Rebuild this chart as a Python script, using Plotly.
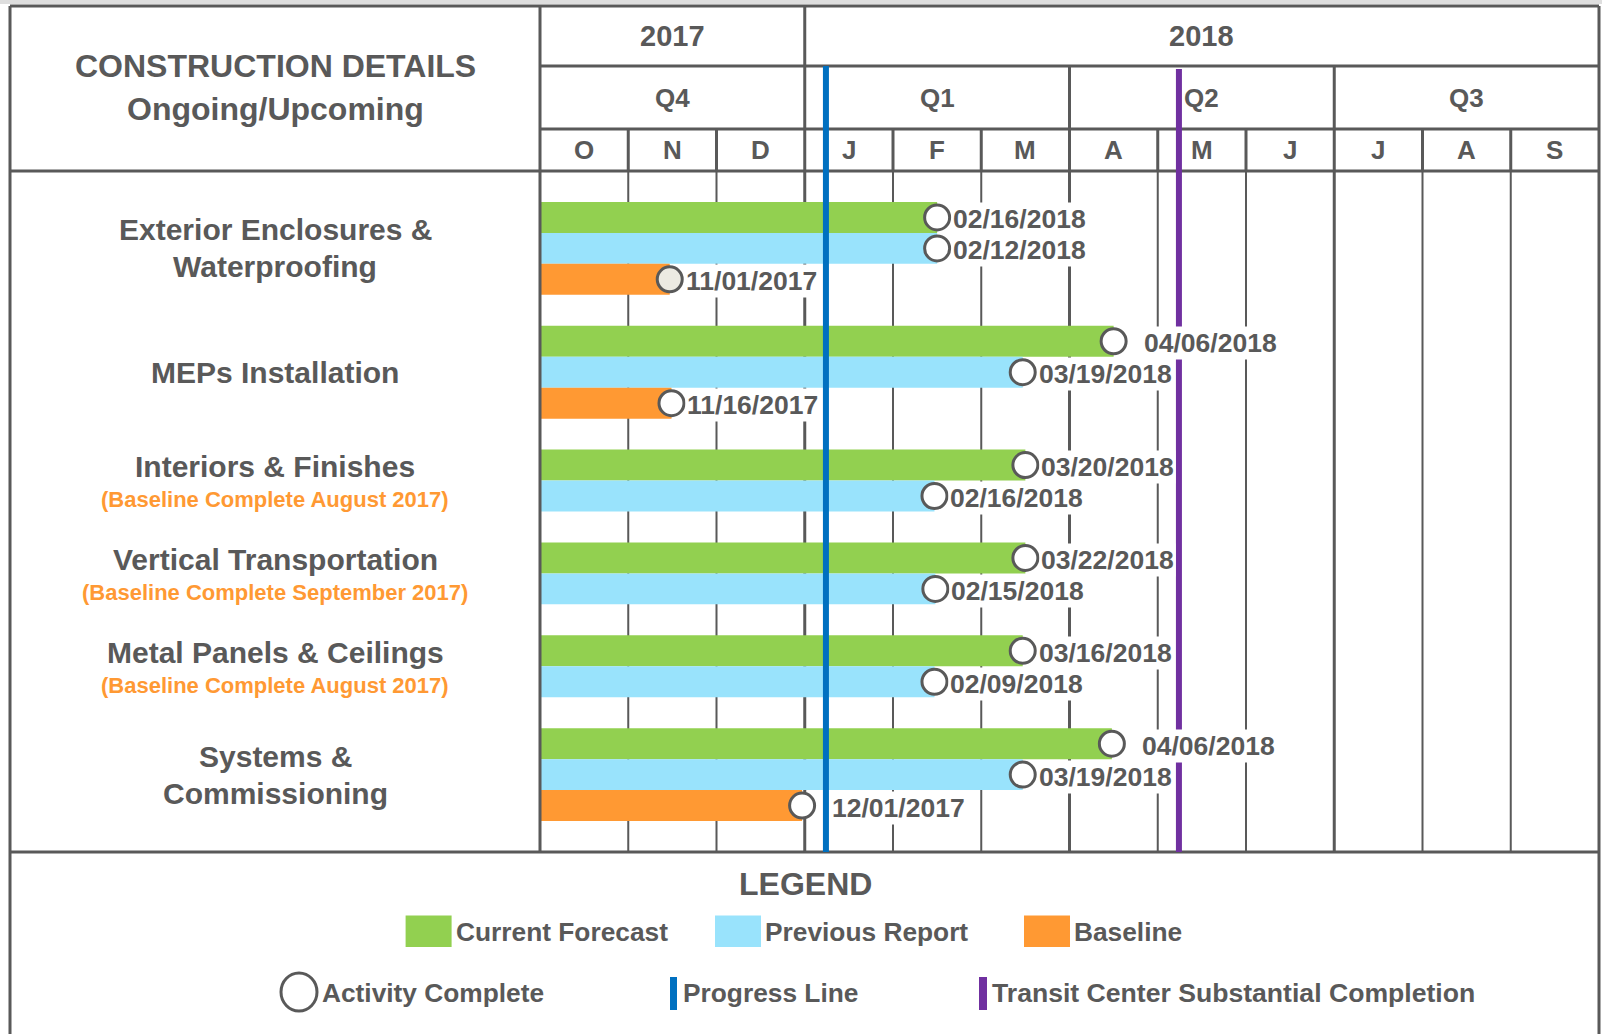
import plotly.graph_objects as go

# ---------------- data ----------------
categories = ["Exterior Enclosures &<br>Waterproofing", "MEPs Installation", "Interiors & Finishes",
              "Vertical Transportation", "Metal Panels & Ceilings", "Systems &<br>Commissioning"]
category_notes = [None, None, "(Baseline Complete August 2017)", "(Baseline Complete September 2017)",
                  "(Baseline Complete August 2017)", None]

# bar ends as drawn on the chart, in months counted from 1 Oct 2017
forecast_end = [4.5, 6.5, 5.5, 5.5, 5.47, 6.48]
forecast_label = ["02/16/2018", "04/06/2018", "03/20/2018", "03/22/2018", "03/16/2018", "04/06/2018"]
previous_end = [4.5, 5.47, 4.47, 4.48, 4.47, 5.47]
previous_label = ["02/12/2018", "03/19/2018", "02/16/2018", "02/15/2018", "02/09/2018", "03/19/2018"]
baseline_end = [1.47, 1.49, None, None, None, 2.97]
baseline_label = ["11/01/2017", "11/16/2017", None, None, None, "12/01/2017"]

progress_line = 3.24        # months from 1 Oct 2017
transit_completion = 7.24   # months from 1 Oct 2017

years = ["2017", "2018"]
year_months = [3, 9]
quarters = ["Q4", "Q1", "Q2", "Q3"]
months = ["O", "N", "D", "J", "F", "M", "A", "M", "J", "J", "A", "S"]

title_lines = ["CONSTRUCTION DETAILS", "Ongoing/Upcoming"]
legend_title = "LEGEND"
legend_extra = ["Activity Complete", "Progress Line", "Transit Center Substantial Completion"]

# ---------------- styling ----------------
W, H = 1602, 1034
L, R, T, B = 540, 1599, 171, 852          # plot area in pixels
FONT = "Liberation Sans, Arial, Helvetica, sans-serif"
GREY = "#595959"
GREEN, BLUE, ORANGE = "#92D050", "#99E3FC", "#FF9933"
PROG, PURPLE = "#0070C0", "#7030A0"
NOTE_COLOR = "#FF9933"

series = [("Current Forecast", forecast_end, forecast_label, GREEN),
          ("Previous Report", previous_end, previous_label, BLUE),
          ("Baseline", baseline_end, baseline_label, ORANGE)]
shaded_markers = {(2, 0)}                          # (series, category) with tinted circle
label_shift = {(0, 1): 28, (0, 5): 28, (2, 5): 28}  # labels set further from their circle


def xp(px):
    return (px - L) / (R - L)


def yp(py):
    return (B - py) / (B - T)


# ---------------- row layout ----------------
pts = [dict(x=[], y=[], text=[], cat=[]) for _ in series]
group_center = []
row = 0
for i in range(len(categories)):
    first = row
    for s, (_, ends, labels, _) in enumerate(series):
        if ends[i] is not None:
            pts[s]["x"].append(ends[i])
            pts[s]["y"].append(row)
            pts[s]["text"].append(labels[i])
            pts[s]["cat"].append(i)
            row += 1
    group_center.append((first + row - 1) / 2)
    row += 1
n_rows = row

fig = go.Figure()

for s, (name, _, _, col) in enumerate(series):
    fig.add_trace(go.Bar(x=pts[s]["x"], y=pts[s]["y"], base=0, orientation="h", width=1,
                         marker=dict(color=col, line=dict(width=0)), name=name, hoverinfo="skip"))

mx, my, mfill = [], [], []
for s in range(len(series)):
    for x, y, c in zip(pts[s]["x"], pts[s]["y"], pts[s]["cat"]):
        mx.append(x)
        my.append(y)
        mfill.append("#ECEAE2" if (s, c) in shaded_markers else "white")
fig.add_trace(go.Scatter(x=mx, y=my, mode="markers", hoverinfo="skip",
                         marker=dict(symbol="circle", size=25, color=mfill,
                                     line=dict(color=GREY, width=3))))


def ann(text, x, y, size, xref="paper", yref="paper", xanchor="center", color=GREY, **kw):
    fig.add_annotation(text=text, x=x, y=y, xref=xref, yref=yref, xanchor=xanchor,
                       yanchor="middle", showarrow=False,
                       font=dict(family=FONT, size=size, color=color, weight="bold"), **kw)


# date labels
for s in range(len(series)):
    for x, y, t, c in zip(pts[s]["x"], pts[s]["y"], pts[s]["text"], pts[s]["cat"]):
        ann(t, x, y, 26.5, xref="x", yref="y", xanchor="left",
            xshift=label_shift.get((s, c), 14), yshift=-2, bgcolor="white", borderpad=1)

# category labels
LEFT_CENTER = xp(275)
for i, cat in enumerate(categories):
    lines = cat.split("<br>")
    if category_notes[i]:
        ann(lines[0], LEFT_CENTER, group_center[i], 30, yref="y", yshift=14)
        ann(category_notes[i], LEFT_CENTER, group_center[i], 22, yref="y", yshift=-19, color=NOTE_COLOR)
    else:
        n = len(lines)
        for k, ln in enumerate(lines):
            ann(ln, LEFT_CENTER, group_center[i], 30, yref="y", yshift=(n - 1) / 2 * 37 - k * 37)

# title
ann(title_lines[0], LEFT_CENTER, yp(66), 32)
ann(title_lines[1], LEFT_CENTER, yp(109), 32)

# header texts
nm = len(months)
start = 0
for yr, n in zip(years, year_months):
    ann(yr, (start + n / 2) / nm, yp(36), 29)
    start += n
for q, qn in enumerate(quarters):
    ann(qn, (q * 3 + 1.5) / nm, yp(98), 26)
for m, mn in enumerate(months):
    ann(mn, (m + 0.5) / nm, yp(150), 26)

# ---------------- lines ----------------
shapes = []


def line(x0, y0, x1, y1, w=3, color=GREY, layer="below"):
    shapes.append(dict(type="line", xref="paper", yref="paper", x0=x0, y0=y0, x1=x1, y1=y1,
                       line=dict(color=color, width=w), layer=layer))


def rect(x0, y0, x1, y1, color, layer="above"):
    shapes.append(dict(type="rect", xref="paper", yref="paper", x0=x0, y0=y0, x1=x1, y1=y1,
                       line=dict(width=0), fillcolor=color, layer=layer))


rect(xp(0), yp(0), xp(W), yp(4), "#DEDEDE")
# outer frame
line(xp(10), yp(6), 1, yp(6))
line(xp(10), yp(6), xp(10), yp(H))
line(1, yp(6), 1, yp(H))
# header / body horizontal rules
line(0, yp(66), 1, yp(66))
line(0, yp(129), 1, yp(129))
line(xp(10), 1, 1, 1)
line(xp(10), 0, 1, 0)
# verticals
year_edges = [sum(year_months[:k]) for k in range(len(year_months))]
for k in range(nm):
    x = k / nm
    if k == 0:
        line(x, yp(6), x, 0, layer="above")
    elif k in year_edges:
        line(x, yp(6), x, 0)
    elif k % 3 == 0:
        line(x, yp(66), x, 0)
    else:
        line(x, yp(129), x, 1)
        line(x, 1, x, 0, w=2)
# progress & transit lines
line(progress_line / nm, yp(66), progress_line / nm, 0, w=6, color=PROG, layer="above")
line(transit_completion / nm, yp(69), transit_completion / nm, 0, w=6, color=PURPLE, layer="above")

# ---------------- legend ----------------
ann(legend_title, xp(805), yp(884), 32)
sw_x = [405.6, 715, 1024]
for (name, _, _, col), x0 in zip(series, sw_x):
    rect(xp(x0), yp(915.5), xp(x0 + 46), yp(947), col)
    ann(name, xp(x0 + 48), yp(932), 26.3, xanchor="left")
shapes.append(dict(type="circle", xref="paper", yref="paper", x0=xp(281), y0=yp(973), x1=xp(317),
                   y1=yp(1011), line=dict(color=GREY, width=3), fillcolor="white", layer="above"))
ann(legend_extra[0], xp(320), yp(993), 26.3, xanchor="left")
rect(xp(670), yp(977), xp(677), yp(1010), PROG)
ann(legend_extra[1], xp(681), yp(993), 26.3, xanchor="left")
rect(xp(979), yp(977), xp(987), yp(1010), PURPLE)
ann(legend_extra[2], xp(990), yp(993), 26.6, xanchor="left")

fig.update_layout(
    width=W, height=H, shapes=shapes, showlegend=False, barmode="overlay",
    margin=dict(l=L, r=W - R, t=T, b=H - B, autoexpand=False),
    plot_bgcolor="white", paper_bgcolor="white",
    xaxis=dict(range=[0, nm], visible=False, fixedrange=True),
    yaxis=dict(range=[n_rows - 0.5, -1.5], visible=False, fixedrange=True),
)

fig.write_html("out.html", config={"displayModeBar": False},
               post_script="document.body.style.margin='0';document.body.style.overflow='hidden';")
